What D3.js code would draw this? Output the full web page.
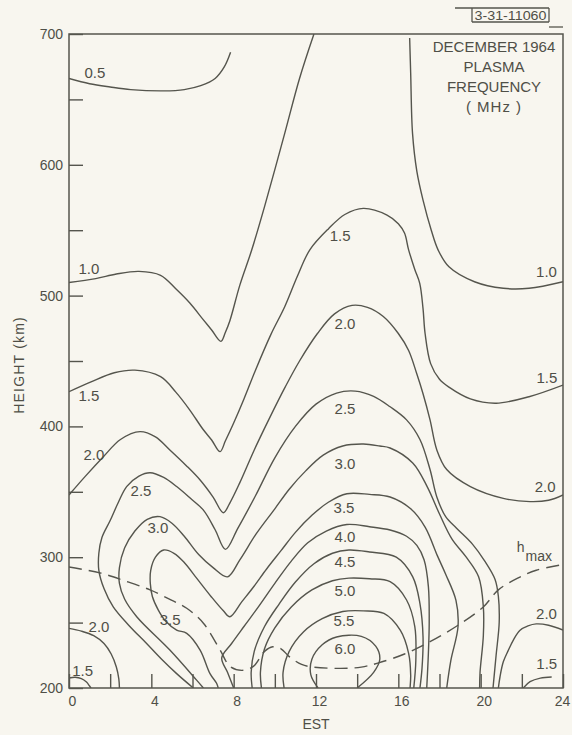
<!DOCTYPE html>
<html><head><meta charset="utf-8">
<script src="https://cdn.jsdelivr.net/npm/d3@7"></script>
<style>
html,body{margin:0;padding:0;background:#f8f6ef;}
svg{display:block;}
text{font-family:"Liberation Sans",Arial,sans-serif;fill:#4f4f47;}
</style></head><body>
<svg id="chart" width="572" height="735"></svg>
<script>
// ---------- data (EST hours, height km) ----------
const hourTicks = [0,2,4,6,8,10,12,14,16,18,20,22,24];
const hourLabels = [0,4,8,12,16,20,24];
const heightTicks = [200,250,300,350,400,450,500,550,600,650,700];
const heightLabels = [200,300,400,500,600,700];

const contour05 = [[0,666],[1,662],[2,659.5],[3,657.5],[4.6,656.5],[5.6,657.5],[6.4,660.5],[7.1,666],[7.55,675],[7.85,686]];
const contour10a = [[0,510],[1.3,513],[2.3,516.5],[3.4,518.5],[4.45,515.5],[5.2,505],[5.87,494.3],[6.5,482],[6.93,473.7],[7.38,465],[7.6,472],[7.82,481],[8.3,508],[8.88,535],[9.5,568],[10.48,624],[11.2,666],[11.9,700]];
const contour10b = [[16.55,697],[16.6,670],[16.69,624],[16.9,595],[17.2,573],[17.6,550],[17.93,535],[18.46,522],[19.7,510.6],[21.1,505.6],[22.35,505.6],[24,510.6]];
const contour15a = [[0,426.5],[1.07,434],[2.2,441],[3.2,443],[4.45,438],[5.2,426],[5.87,412.5],[6.5,398],[6.93,389.6],[7.34,380.7],[7.6,389],[8.0,402.6],[8.5,421],[9.06,443],[9.8,470],[10.48,491.5],[11.1,515],[11.7,535],[12.6,551],[13.4,562],[14.3,566.7],[15.45,561.6],[16.0,555],[16.3,547.8],[16.5,535],[16.8,520],[17.04,509.4],[17.2,490],[17.3,471],[17.57,448],[18.0,436],[18.46,430],[19.5,421],[20.75,417.7],[22.35,422.7],[24,431.6]];
const contour15b = [[0,207.6],[0.3,208.2],[0.6,207.2],[0.85,204.5],[1.0,201.5],[1.07,200]];
const contour15c = [[22.07,200],[22.4,204.8],[22.9,207.6],[23.45,208.4]];
const contour20a = [[0,347.6],[0.8,362],[1.67,376.8],[2.5,390],[3.45,396],[4.2,392],[4.9,382],[5.7,370],[6.37,359],[7.0,346],[7.5,334],[7.8,341],[8.3,357],[9.0,382],[9.7,405],[10.5,430],[11.2,450],[12.07,471],[12.9,486],[13.75,492.5],[14.5,491],[15.27,484],[16.0,471],[16.5,458],[16.9,440],[17.2,425],[17.54,405],[17.87,382],[18.35,367],[19.5,354],[21.1,345],[22.4,342.5],[23.3,343.5],[24,347.6]];
const contour20b = [[0,245.6],[0.6,243.5],[1.2,240],[1.7,234],[2.05,226],[2.3,216],[2.42,207],[2.45,200]];
const contour20c = [[20.86,200],[20.94,208.6],[21.1,220],[21.35,229],[21.6,237],[21.9,244],[22.3,247.5],[22.7,249],[23.3,248],[24,244.3]];
const contour25 = [[6.04,200],[5.23,211],[4.5,222],[3.77,234],[2.9,248],[2.15,262],[1.7,276],[1.45,290],[1.45,303],[1.6,315],[2.0,328],[2.4,342],[2.8,354],[3.4,362],[3.94,364.6],[4.6,361],[5.23,354],[5.9,345],[6.53,336],[7.1,321],[7.6,306],[8.2,322],[9.06,347],[10.0,376],[11.0,400],[12.0,417],[13.0,425.5],[13.9,427],[14.8,423],[15.6,415],[16.4,405],[17.05,390],[17.54,367],[17.87,346],[18.3,331],[18.84,322],[19.6,310],[20.2,297],[20.7,283],[20.86,270],[20.9,250],[20.75,225],[20.6,200]];
const contour30 = [[6.53,200],[6.2,206],[4.9,229],[3.29,254.5],[2.7,268],[2.45,280],[2.45,292],[2.7,307],[3.2,320],[3.8,329],[4.42,331],[5.0,326],[5.6,316],[6.3,302],[7.0,292],[7.7,285],[8.3,298],[9.1,318],[10.0,337],[10.7,352],[11.5,366],[12.35,378],[13.3,385],[14.3,386.5],[15.1,385],[15.6,383.5],[16.7,372],[17.4,354],[18.0,333],[18.6,314],[19.3,300],[19.9,285],[20.13,262],[20.13,240],[19.97,212],[19.95,200]];
const contour35 = [[7.25,200],[7.17,203.6],[6.85,211],[6.37,229],[5.72,241.8],[5.23,244.3],[4.7,251],[4.34,259.6],[4.05,270],[3.95,280],[3.97,290],[4.2,300],[4.6,305.5],[5.1,303],[5.6,296],[6.2,284],[6.9,270],[7.5,259],[7.82,254.5],[8.4,266],[9.0,278],[9.6,291],[10.3,305],[11.0,319],[11.8,332],[12.6,342],[13.5,348.5],[14.6,348],[15.6,346],[16.6,337],[17.3,323],[17.9,301],[18.3,287],[18.8,267],[18.9,247],[18.55,221],[18.35,200]];
const contour40 = [[8.0,200],[7.7,212],[7.42,223],[7.9,234],[8.5,247],[9.2,262],[10.0,280],[10.8,297],[11.6,311],[12.5,320],[13.5,325],[14.6,323.3],[15.6,320.8],[16.4,316],[16.9,309],[17.25,298],[17.46,277.5],[17.5,250],[17.46,226.5],[17.38,200]];
const contour45 = [[8.9,200],[8.85,212],[9.0,228],[9.5,247],[10.2,264],[11.0,281],[11.9,295],[12.8,303],[13.6,305.5],[14.6,304],[15.9,300],[16.7,285],[17.05,264.6],[17.2,239],[17.15,215],[17.05,200]];
const contour50 = [[9.35,200],[9.3,212],[9.5,230],[10.0,246],[10.8,262],[11.8,275],[12.8,282],[13.6,284],[14.6,283.5],[15.6,281.3],[16.4,267.3],[16.8,247],[16.85,221],[16.75,200]];
const contour55 = [[10.45,200],[10.4,212],[10.7,228],[11.4,243],[12.3,253],[13.3,258.5],[14.3,259],[15.3,257],[16.1,244],[16.5,226.5],[16.6,210],[16.57,200]];
const contour60 = [[12.1,200],[11.75,210],[11.8,222],[12.3,233],[13.0,239],[14.2,239.5],[14.9,232],[15.1,222],[14.8,212],[14.0,200]];
const hmax = [[0,292.5],[1.5,288],[2.7,282],[3.94,275],[5.0,267],[5.72,261],[6.53,249.5],[7.34,229],[7.82,216.5],[8.4,213.5],[8.96,216.5],[9.5,228],[9.9,231.5],[10.3,230],[10.7,224],[11.3,218],[11.86,216],[13.2,215],[14.2,216],[15,219],[16.3,226],[17.54,235.4],[18.9,248],[20.13,262],[20.86,275],[21.8,284],[22.7,290],[23.86,294]];

const contourLabels = [
  ["0.5",1.26,670.6],["1.0",0.97,520.3],["1.0",23.2,518.3],["1.5",0.97,423.2],
  ["1.5",13.17,545.6],["1.5",23.22,437.4],["2.0",1.21,378.1],["2.0",13.41,478.3],
  ["2.0",23.13,353.9],["2.5",3.5,350.6],["2.5",13.41,413.3],["3.0",4.32,322.3],
  ["3.0",13.41,371.3],["3.5",13.36,338],["4.0",13.41,315.4],["4.5",13.41,296.3],
  ["5.0",13.41,274.2],["5.5",13.36,251.2],["6.0",13.41,229.8],["3.5",4.91,252],
  ["2.0",1.46,246.6],["1.5",0.66,213.3],["2.0",23.2,256.6],["1.5",23.21,218.3]
];
const titleLines = ["DECEMBER 1964","PLASMA","FREQUENCY","( MHz )"];
const figureId = "3-31-11060";

// ---------- drawing ----------
const svg = d3.select("#chart");
const W = 572, H = 735;
const x = d3.scaleLinear().domain([0,24]).range([69,563]);
const y = d3.scaleLinear().domain([200,700]).range([688,34]);
const ink = "#55554d";

svg.append("rect").attr("width",W).attr("height",H).attr("fill","#f8f6ef");

svg.append("defs").append("clipPath").attr("id","plot")
  .append("rect").attr("x",x(0)).attr("y",y(700)).attr("width",x(24)-x(0)).attr("height",y(200)-y(700));

// axes
const yAxis = d3.axisLeft(y).tickValues(heightTicks).tickSize(-14).tickPadding(6)
  .tickFormat(d => heightLabels.includes(d) ? d : "");
const gy = svg.append("g").attr("transform",`translate(${x(0)},0)`).call(yAxis);
const xAxis = d3.axisBottom(x).tickValues(hourTicks).tickSize(-14).tickPadding(8)
  .tickFormat(d => hourLabels.includes(d) ? d : "");
const gx = svg.append("g").attr("transform",`translate(0,${y(200)})`).call(xAxis);
[gx,gy].forEach(g=>{
  g.select(".domain").remove();
  g.selectAll("line").attr("stroke",ink).attr("stroke-width",1.4);
  g.selectAll("text").attr("font-size",14).attr("fill","#4f4f47")
   .attr("font-family","Liberation Sans, Arial, sans-serif");
});
gx.selectAll("text").attr("dx",d => d===24 ? -1 : 3);

// frame
svg.append("rect").attr("x",x(0)).attr("y",y(700)).attr("width",x(24)-x(0)).attr("height",y(200)-y(700))
  .attr("fill","none").attr("stroke",ink).attr("stroke-width",1.5);

// contours
const line = d3.line().x(d=>x(d[0])).y(d=>y(d[1])).curve(d3.curveCatmullRom.alpha(0.5));
const contours = [contour05,contour10a,contour10b,contour15a,contour15b,contour15c,contour20a,contour20b,contour20c,
  contour25,contour30,contour35,contour40,contour45,contour50,contour55,contour60];
const gc = svg.append("g").attr("clip-path","url(#plot)");
gc.selectAll("path.c").data(contours).join("path").attr("class","c")
  .attr("d",line).attr("fill","none").attr("stroke",ink).attr("stroke-width",1.4);
gc.append("path").datum(hmax).attr("d",line).attr("fill","none").attr("stroke",ink)
  .attr("stroke-width",1.4).attr("stroke-dasharray","13,7");

// contour labels
svg.append("g").selectAll("text").data(contourLabels).join("text")
  .attr("x",d=>x(d[1])).attr("y",d=>y(d[2])).attr("dy","0.36em")
  .attr("text-anchor","middle").attr("font-size",15).text(d=>d[0]);

// h max label
const hl = svg.append("text").attr("x",x(21.75)).attr("y",y(304)).attr("font-size",14);
hl.append("tspan").text("h");
hl.append("tspan").attr("dy",9).attr("dx",1).text("max");

// axis titles
svg.append("text").attr("x",x(12)).attr("y",729).attr("text-anchor","middle").attr("font-size",14).text("EST");
svg.append("text").attr("transform",`translate(24,${y(447)}) rotate(-90)`).attr("text-anchor","middle")
  .attr("font-size",14).attr("letter-spacing",1.2).text("HEIGHT (km)");

// title block
svg.append("g").selectAll("text").data(titleLines).join("text")
  .attr("x",494).attr("y",(d,i)=>52+i*20).attr("text-anchor","middle").attr("font-size",15)
  .attr("letter-spacing",(d,i)=>i===3?1:0).text(d=>d);

// figure id box
const ib = svg.append("g").attr("stroke",ink).attr("stroke-width",1.3).attr("fill","none");
ib.append("line").attr("x1",455).attr("x2",549).attr("y1",8).attr("y2",8);
ib.append("line").attr("x1",472).attr("x2",472).attr("y1",8).attr("y2",22);
ib.append("line").attr("x1",549).attr("x2",549).attr("y1",8).attr("y2",22);
ib.append("line").attr("x1",472).attr("x2",549).attr("y1",22).attr("y2",22);
ib.append("line").attr("x1",549).attr("x2",563).attr("y1",27).attr("y2",27);
svg.append("text").attr("x",510.5).attr("y",20).attr("text-anchor","middle").attr("font-size",13)
  .attr("textLength",72).attr("lengthAdjust","spacingAndGlyphs").text(figureId);
</script>
</body></html>
